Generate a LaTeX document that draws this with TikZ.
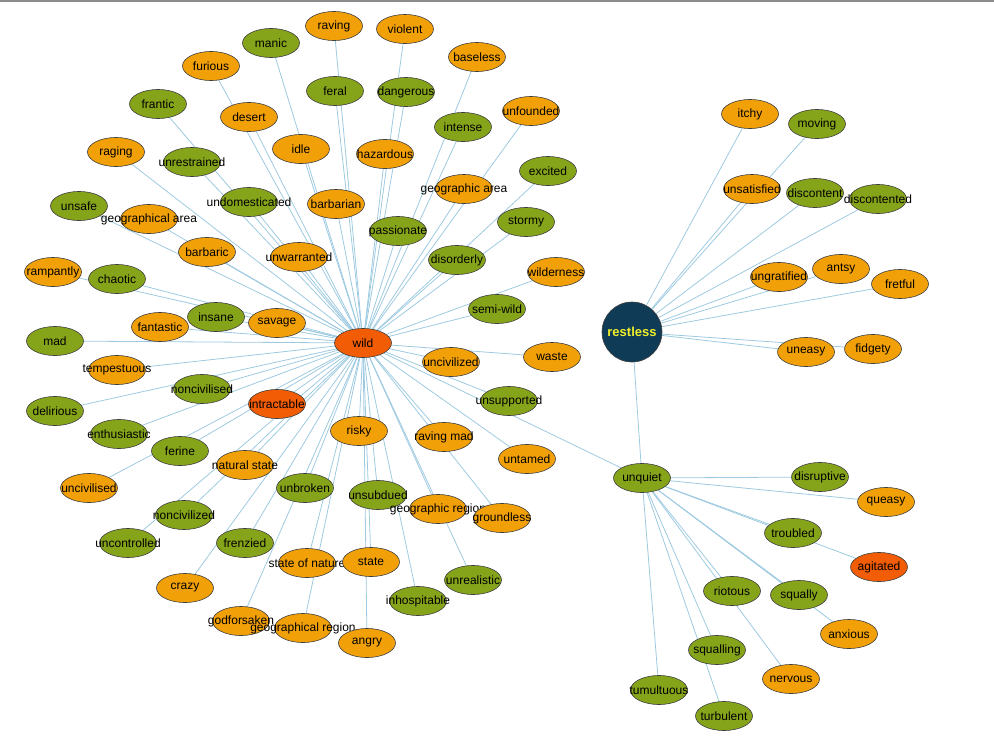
\documentclass[tikz,border=0pt]{standalone}
\usepackage{fontspec}
\setmainfont{Liberation Sans}
\usetikzlibrary{shapes.geometric,backgrounds}

\definecolor{naranja}{RGB}{242,160,7}
\definecolor{verde}{RGB}{134,164,26}
\definecolor{rojo}{RGB}{242,92,5}
\definecolor{marino}{RGB}{15,59,86}
\definecolor{amarillo}{RGB}{240,240,40}
\definecolor{azul}{RGB}{158,202,225}

\tikzset{
  pal/.style={ellipse, draw=black!75, line width=0.6pt, minimum width=57pt,
    minimum height=29pt, inner sep=0pt, font=\fontsize{12}{14}\selectfont},
  onar/.style={pal, fill=naranja},
  over/.style={pal, fill=verde},
  oroj/.style={pal, fill=rojo},
  arista/.style={draw=azul, line width=0.8pt}
}
% text may run past the oval, as in the picture
\newcommand{\lbl}[1]{\makebox[0pt]{#1}}

\begin{document}
\begin{tikzpicture}[x=1pt, y=-1pt]
  \useasboundingbox (0,0) rectangle (994,736);
  \draw[black!45, line width=1.5pt] (0,0.75) -- (994,0.75);

  % hubs
  \node[oroj] (wild) at (363,343) {\lbl{wild}};
  \node[circle, fill=marino, draw=black!75, line width=0.6pt, minimum size=60pt, inner sep=0pt,
    text=amarillo, font=\bfseries\fontsize{13}{15}\selectfont] (restless) at (632,332) {restless};
  \node[over] (unquiet) at (642,478) {\lbl{unquiet}};

  % around wild, top
  \node[onar] (raving) at (334,26) {\lbl{raving}};
  \node[onar] (violent) at (405,29) {\lbl{violent}};
  \node[over] (manic) at (271,43) {\lbl{manic}};
  \node[onar] (furious) at (211,66) {\lbl{furious}};
  \node[onar] (baseless) at (477,57) {\lbl{baseless}};
  \node[over] (feral) at (335,91) {\lbl{feral}};
  \node[over] (dangerous) at (406,92) {\lbl{dangerous}};
  \node[over] (frantic) at (158,104) {\lbl{frantic}};
  \node[onar] (desert) at (249,117) {\lbl{desert}};
  \node[onar] (unfounded) at (531,111) {\lbl{unfounded}};
  \node[onar] (idle) at (301,149) {\lbl{idle}};
  \node[onar] (hazardous) at (385,154) {\lbl{hazardous}};
  \node[over] (intense) at (463,127) {\lbl{intense}};
  \node[onar] (raging) at (116,152) {\lbl{raging}};
  \node[over] (unrestrained) at (192,162) {\lbl{unrestrained}};
  \node[over] (excited) at (548,171) {\lbl{excited}};
  \node[onar] (geoarea) at (464,189) {\lbl{geographic area}};
  \node[over] (undomesticated) at (249,202) {\lbl{undomesticated}};
  \node[onar] (barbarian) at (336,204) {\lbl{barbarian}};
  \node[over] (unsafe) at (79,206) {\lbl{unsafe}};
  \node[onar] (geogarea) at (149,219) {\lbl{geographical area}};
  \node[over] (stormy) at (526,222) {\lbl{stormy}};
  \node[over] (passionate) at (398,231) {\lbl{passionate}};

  % around wild, middle
  \node[onar] (barbaric) at (207,252) {\lbl{barbaric}};
  \node[onar] (unwarranted) at (299,257) {\lbl{unwarranted}};
  \node[over] (disorderly) at (457,260) {\lbl{disorderly}};
  \node[onar] (rampantly) at (53,272) {\lbl{rampantly}};
  \node[over] (chaotic) at (117,279) {\lbl{chaotic}};
  \node[onar] (wilderness) at (556,272) {\lbl{wilderness}};
  \node[over] (insane) at (216,317) {\lbl{insane}};
  \node[onar] (savage) at (277,323) {\lbl{savage}};
  \node[over] (semiwild) at (497,309) {\lbl{semi-wild}};
  \node[onar] (fantastic) at (160,327) {\lbl{fantastic}};
  \node[over] (mad) at (55,341) {\lbl{mad}};
  \node[onar] (waste) at (552,357) {\lbl{waste}};
  \node[onar] (uncivilized) at (451,362) {\lbl{uncivilized}};
  \node[onar] (tempestuous) at (117,370) {\lbl{tempestuous}};
  \node[over] (noncivilised) at (202,389) {\lbl{noncivilised}};
  \node[over] (unsupported) at (509,401) {\lbl{unsupported}};
  \node[over] (delirious) at (55,411) {\lbl{delirious}};
  \node[oroj] (intractable) at (277,404) {\lbl{intractable}};
  \node[onar] (risky) at (359,431) {\lbl{risky}};
  \node[onar] (ravingmad) at (444,437) {\lbl{raving mad}};
  \node[over] (enthusiastic) at (119,434) {\lbl{enthusiastic}};
  \node[over] (ferine) at (180,451) {\lbl{ferine}};
  \node[onar] (untamed) at (527,459) {\lbl{untamed}};

  % around wild, bottom
  \node[onar] (naturalstate) at (245,465) {\lbl{natural state}};
  \node[onar] (uncivilised) at (89,488) {\lbl{uncivilised}};
  \node[over] (unbroken) at (305,488) {\lbl{unbroken}};
  \node[over] (unsubdued) at (378,495) {\lbl{unsubdued}};
  \node[onar] (georegion) at (438,509) {\lbl{geographic region}};
  \node[onar] (groundless) at (502,518) {\lbl{groundless}};
  \node[over] (noncivilized) at (184,515) {\lbl{noncivilized}};
  \node[over] (uncontrolled) at (128,543) {\lbl{uncontrolled}};
  \node[over] (frenzied) at (245,543) {\lbl{frenzied}};
  \node[onar] (stateofnature) at (307,563) {\lbl{state of nature}};
  \node[onar] (state) at (371,562) {\lbl{state}};
  \node[onar] (crazy) at (185,588) {\lbl{crazy}};
  \node[over] (unrealistic) at (473,580) {\lbl{unrealistic}};
  \node[over] (inhospitable) at (418,601) {\lbl{inhospitable}};
  \node[onar] (godforsaken) at (241,621) {\lbl{godforsaken}};
  \node[onar] (geogregion) at (303,628) {\lbl{geographical region}};
  \node[onar] (angry) at (367,643) {\lbl{angry}};

  % around restless
  \node[onar] (itchy) at (750,114) {\lbl{itchy}};
  \node[over] (moving) at (817,124) {\lbl{moving}};
  \node[onar] (unsatisfied) at (752,189) {\lbl{unsatisfied}};
  \node[over] (discontent) at (815,193) {\lbl{discontent}};
  \node[over] (discontented) at (878,199) {\lbl{discontented}};
  \node[onar] (ungratified) at (779,277) {\lbl{ungratified}};
  \node[onar] (antsy) at (841,269) {\lbl{antsy}};
  \node[onar] (fretful) at (900,284) {\lbl{fretful}};
  \node[onar] (uneasy) at (806,352) {\lbl{uneasy}};
  \node[onar] (fidgety) at (873,349) {\lbl{fidgety}};

  % around unquiet
  \node[over] (disruptive) at (820,477) {\lbl{disruptive}};
  \node[onar] (queasy) at (886,502) {\lbl{queasy}};
  \node[over] (troubled) at (793,533) {\lbl{troubled}};
  \node[oroj] (agitated) at (879,567) {\lbl{agitated}};
  \node[over] (riotous) at (732,591) {\lbl{riotous}};
  \node[over] (squally) at (799,595) {\lbl{squally}};
  \node[onar] (anxious) at (849,634) {\lbl{anxious}};
  \node[over] (squalling) at (717,650) {\lbl{squalling}};
  \node[onar] (nervous) at (791,679) {\lbl{nervous}};
  \node[over] (tumultuous) at (659,690) {\lbl{tumultuous}};
  \node[over] (turbulent) at (724,716) {\lbl{turbulent}};

  % links, under the ovals
  \begin{scope}[on background layer]
    \foreach \n in {raving,violent,manic,furious,baseless,feral,dangerous,frantic,desert,
        unfounded,idle,hazardous,intense,raging,unrestrained,excited,geoarea,undomesticated,
        barbarian,unsafe,geogarea,stormy,passionate,barbaric,unwarranted,disorderly,rampantly,
        chaotic,wilderness,insane,savage,semiwild,fantastic,mad,waste,uncivilized,tempestuous,
        noncivilised,unsupported,delirious,intractable,risky,ravingmad,enthusiastic,ferine,
        untamed,naturalstate,uncivilised,unbroken,unsubdued,georegion,groundless,noncivilized,
        uncontrolled,frenzied,stateofnature,state,crazy,unrealistic,inhospitable,godforsaken,
        geogregion,angry,unquiet}
      \draw[arista] (wild) -- (\n);
    \foreach \n in {itchy,moving,unsatisfied,discontent,discontented,ungratified,antsy,
        fretful,uneasy,fidgety,unquiet}
      \draw[arista] (restless) -- (\n);
    \foreach \n in {disruptive,queasy,troubled,agitated,riotous,squally,anxious,squalling,
        nervous,tumultuous,turbulent}
      \draw[arista] (unquiet) -- (\n);
  \end{scope}
\end{tikzpicture}
\end{document}
